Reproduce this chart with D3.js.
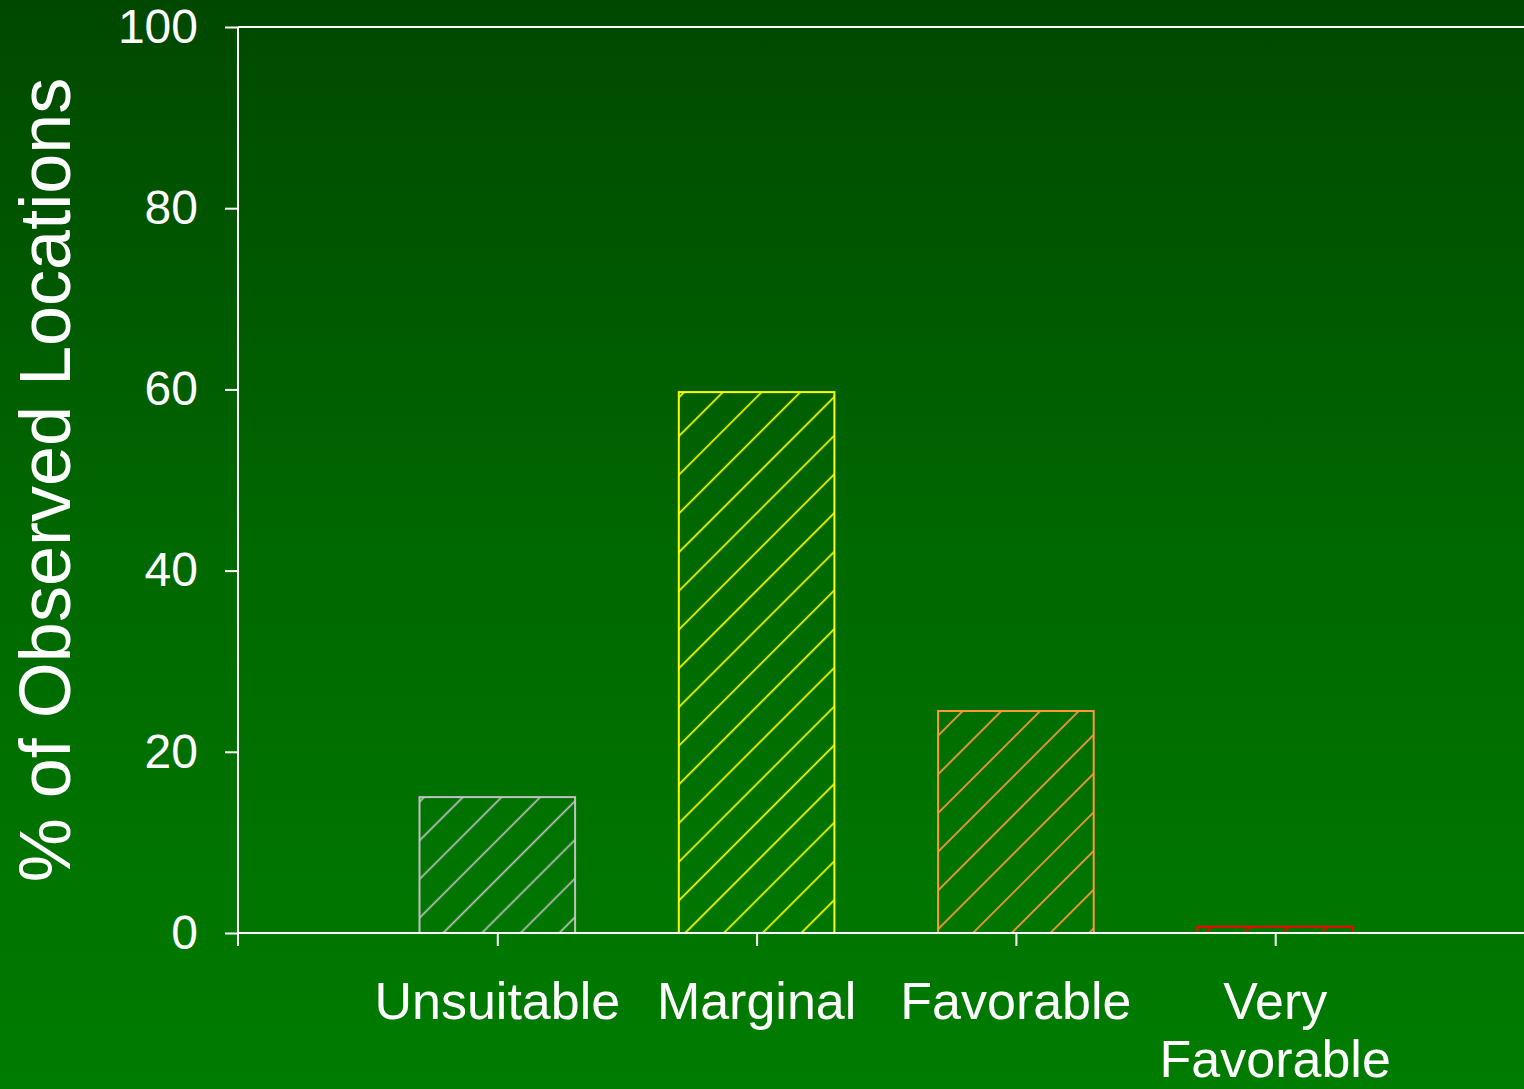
<!DOCTYPE html>
<html>
<head>
<meta charset="utf-8">
<script src="https://cdn.jsdelivr.net/npm/d3@7"></script>
<style>
  html, body { margin: 0; padding: 0; overflow: hidden; }
  svg { display: block; }
  text { font-family: "Liberation Sans", Arial, sans-serif; fill: #ffffff; }
</style>
</head>
<body>
<svg id="chart" width="1524" height="1089"></svg>
<script>
// Share of observed locations per habitat class
const categories = ["Unsuitable", "Marginal", "Favorable", "Very Favorable"];
const percentValues = [15.0, 59.7, 24.5, 0.7];
const barColors = ["#c0c0c0", "#ffff00", "#ff9933", "#ff0000"];
const yTicks = [0, 20, 40, 60, 80, 100];
const yTitle = "% of Observed Locations";

const W = 1524, H = 1089;
const plotLeft = 238, plotTop = 27, plotBottom = 933;

const svg = d3.select("#chart");
const defs = svg.append("defs");

// background gradient, dark green at the top, lighter at the bottom
const bg = defs.append("linearGradient")
  .attr("id", "bg").attr("x1", 0).attr("y1", 0).attr("x2", 0).attr("y2", 1);
bg.append("stop").attr("offset", "0%").attr("stop-color", "#004800");
bg.append("stop").attr("offset", "50%").attr("stop-color", "#006800");
bg.append("stop").attr("offset", "100%").attr("stop-color", "#007c00");
svg.append("rect").attr("width", W).attr("height", H).attr("fill", "url(#bg)");

// category positions: slot 0 is left empty, classes sit at 1..4
const x = d3.scaleLinear().domain([0, categories.length + 1]).range([plotLeft, plotLeft + 259.3 * 5]);
const slot = x(1) - x(0);
const barW = slot * 0.6;
const y = d3.scaleLinear().domain([0, 100]).range([plotBottom, plotTop]);

// diagonal hatch pattern for each bar colour
const hatchSpacing = 38.7;           // horizontal distance between hatch lines
const perp = hatchSpacing / Math.SQRT2;
const hatchPhase = [21.6, 31.4, 9.6, 10];
categories.forEach((c, i) => {
  const p = defs.append("pattern")
    .attr("id", "hatch" + i)
    .attr("patternUnits", "userSpaceOnUse")
    .attr("width", perp).attr("height", perp)
    .attr("patternTransform", "rotate(45)");
  const u0 = (hatchPhase[i] / Math.SQRT2) % perp;
  [u0 - perp, u0, u0 + perp].forEach(u => {
    p.append("line")
      .attr("x1", u).attr("x2", u).attr("y1", -1).attr("y2", perp + 1)
      .attr("stroke", barColors[i]).attr("stroke-width", 1.7);
  });
});

// bars
svg.append("g").selectAll("rect")
  .data(percentValues)
  .join("rect")
  .attr("x", (d, i) => x(i + 1) - barW / 2)
  .attr("y", d => y(d))
  .attr("width", barW)
  .attr("height", d => y(0) - y(d))
  .attr("fill", (d, i) => "url(#hatch" + i + ")")
  .attr("stroke", (d, i) => barColors[i])
  .attr("stroke-width", 2);

// y axis
const yAxis = d3.axisLeft(y).tickValues(yTicks).tickSize(13).tickPadding(27).tickFormat(d3.format("d"));
const gy = svg.append("g").attr("transform", `translate(${plotLeft},0)`).call(yAxis);
gy.select(".domain").remove();
gy.selectAll(".tick line").attr("stroke", "#fff").attr("stroke-width", 2);
gy.selectAll(".tick text")
  .attr("fill", "#fff")
  .style("font-size", "48px")
  .style("font-family", "'Liberation Sans', Arial, sans-serif");
svg.append("line")
  .attr("x1", plotLeft).attr("x2", plotLeft).attr("y1", plotTop).attr("y2", plotBottom + 13)
  .attr("stroke", "#fff").attr("stroke-width", 2);

// top border and baseline running to the right edge
svg.append("line")
  .attr("x1", plotLeft).attr("x2", W).attr("y1", y(100)).attr("y2", y(100))
  .attr("stroke", "#fff").attr("stroke-width", 2);
svg.append("line")
  .attr("x1", plotLeft).attr("x2", W).attr("y1", y(0)).attr("y2", y(0))
  .attr("stroke", "#fff").attr("stroke-width", 2);

// x axis ticks and labels
const xAxis = d3.axisBottom(x)
  .tickValues(categories.map((c, i) => i + 1))
  .tickSize(13)
  .tickFormat("");
const gx = svg.append("g").attr("transform", `translate(0,${plotBottom})`).call(xAxis);
gx.select(".domain").remove();
gx.selectAll(".tick line").attr("stroke", "#fff").attr("stroke-width", 2);

const labels = svg.append("g");
categories.forEach((c, i) => {
  const words = c === "Very Favorable" ? ["Very", "Favorable"] : [c];
  const t = labels.append("text")
    .attr("text-anchor", "middle")
    .attr("x", x(i + 1))
    .attr("y", 1019)
    .style("font-size", "52px");
  words.forEach((w, j) => {
    t.append("tspan").attr("x", x(i + 1)).attr("dy", j === 0 ? 0 : 58).text(w);
  });
});

// y axis title
svg.append("text")
  .attr("transform", `translate(70,${(plotTop + plotBottom) / 2}) rotate(-90)`)
  .attr("text-anchor", "middle")
  .style("font-size", "72px")
  .text(yTitle);
</script>
</body>
</html>
